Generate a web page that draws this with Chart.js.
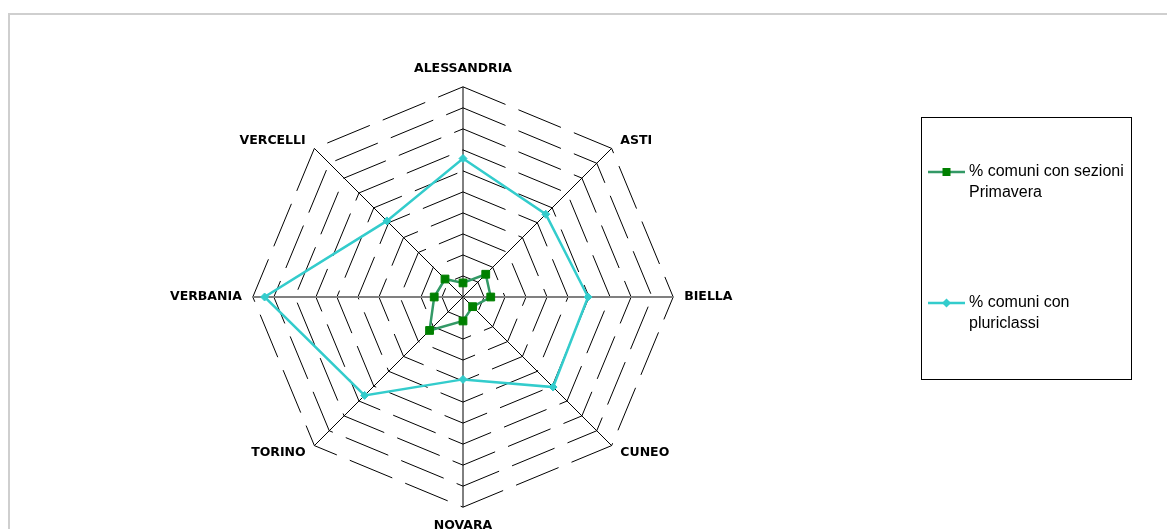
<!DOCTYPE html>
<html lang="it">
<head>
<meta charset="utf-8">
<title>Comuni con sezioni Primavera e pluriclassi</title>
<script src="https://cdn.jsdelivr.net/npm/chart.js@4.4.1/dist/chart.umd.min.js"></script>
<style>
  html, body { margin: 0; padding: 0; background: #fff; overflow: hidden; }
  #frame {
    position: absolute; left: 8px; top: 13px; width: 1300px; height: 700px;
    border-left: 2px solid #cfcfcf; border-top: 2px solid #cfcfcf;
  }
  #wrap { position: absolute; left: 0; top: 0; }
</style>
</head>
<body>
<div id="frame"></div>
<div id="wrap"><canvas id="radar" width="1167" height="600"></canvas></div>
<script>
// province piemontesi, in senso orario dall'alto
const province = ['ALESSANDRIA', 'ASTI', 'BIELLA', 'CUNEO', 'NOVARA', 'TORINO', 'VERBANIA', 'VERCELLI'];

const nomePrimavera   = '% comuni con sezioni Primavera';
const nomePluriclassi = '% comuni con pluriclassi';

const primavera   = [6.7, 15.3, 13.2, 6.5, 11.4, 22.5, 13.7, 12.1];
const pluriclassi = [65.9, 55.7, 59.5, 60.6, 39.2, 66.2, 94.4, 51.2];

const scalaMin = 0;
const scalaMax = 100;
const scalaPasso = 10;

// ── legenda nel riquadro a destra ──────────────────────────────────────────
const legendaBox = { x: 921.5, y: 117.5, w: 210, h: 262 };
const legendaY   = [172, 303];

function wrapText(ctx, text, maxW) {
  const words = text.split(' ');
  const lines = [];
  let cur = '';
  for (const w of words) {
    const t = cur ? cur + ' ' + w : w;
    if (ctx.measureText(t).width > maxW && cur) {
      lines.push(cur);
      cur = w;
    } else {
      cur = t;
    }
  }
  if (cur) lines.push(cur);
  return lines;
}

function marker(ctx, style, x, y, r, color) {
  ctx.fillStyle = color;
  ctx.beginPath();
  if (style === 'rect') {
    ctx.rect(x - r, y - r, 2 * r, 2 * r);
  } else {
    ctx.moveTo(x, y - r);
    ctx.lineTo(x + r, y);
    ctx.lineTo(x, y + r);
    ctx.lineTo(x - r, y);
    ctx.closePath();
  }
  ctx.fill();
}

const boxLegend = {
  id: 'boxLegend',
  afterDraw(chart) {
    const ctx = chart.ctx;
    ctx.save();
    ctx.strokeStyle = '#000';
    ctx.lineWidth = 1;
    ctx.strokeRect(legendaBox.x, legendaBox.y, legendaBox.w, legendaBox.h);

    ctx.font = '16px "Liberation Sans", Arial, sans-serif';
    ctx.textBaseline = 'middle';
    ctx.textAlign = 'left';
    chart.data.datasets.forEach((ds, i) => {
      const y = legendaY[i];
      ctx.strokeStyle = ds.borderColor;
      ctx.lineWidth = 2.5;
      ctx.beginPath();
      ctx.moveTo(928, y);
      ctx.lineTo(965, y);
      ctx.stroke();
      marker(ctx, ds.pointStyle, 946.5, y, ds.pointStyle === 'rect' ? 4 : 4.5, ds.pointBackgroundColor);

      ctx.fillStyle = '#000';
      wrapText(ctx, ds.label, 162).forEach((line, k) => {
        ctx.fillText(line, 969, y + k * 21);
      });
    });
    ctx.restore();
  }
};

new Chart(document.getElementById('radar'), {
  type: 'radar',
  data: {
    labels: province,
    datasets: [
      {
        label: nomePrimavera,
        data: primavera,
        borderColor: '#339966',
        backgroundColor: 'transparent',
        borderWidth: 2.5,
        fill: false,
        pointStyle: 'rect',
        pointRadius: 5.5,
        pointBorderWidth: 1,
        pointBackgroundColor: '#008000',
        pointBorderColor: '#008000',
      },
      {
        label: nomePluriclassi,
        data: pluriclassi,
        borderColor: '#33CCCC',
        backgroundColor: 'transparent',
        borderWidth: 2.5,
        fill: false,
        pointStyle: 'rectRot',
        pointRadius: 4,
        pointBorderWidth: 1,
        pointBackgroundColor: '#33CCCC',
        pointBorderColor: '#33CCCC',
      },
    ],
  },
  options: {
    responsive: false,
    animation: false,
    devicePixelRatio: 1,
    layout: { padding: { left: 159, right: 422, top: 4, bottom: 10 } },
    elements: { line: { tension: 0 } },
    plugins: {
      legend: { display: false },
      tooltip: { enabled: false },
    },
    scales: {
      r: {
        min: scalaMin,
        max: scalaMax,
        ticks: { display: false, stepSize: scalaPasso },
        grid: { color: '#000', lineWidth: 1, borderDash: [46, 14] },
        border: { dash: [46, 14] },
        angleLines: {
          color: ctx => (ctx.index === 2 || ctx.index === 6) ? '#808080' : '#000',
          lineWidth: ctx => (ctx.index === 2 || ctx.index === 6) ? 2 : 1,
        },
        pointLabels: {
          color: '#000',
          font: { family: '"DejaVu Sans", sans-serif', size: 12.5, weight: 'bold' },
          padding: ctx => ctx.index % 2 === 0 ? 11 : 0,
          // etichette diagonali: piccolo scostamento orizzontale dal vertice
          callback: (label, i) => {
            if (i === 1 || i === 3) return '  ' + label;
            if (i === 5 || i === 7) return label + '  ';
            return label;
          },
        },
      },
    },
  },
  plugins: [boxLegend],
});
</script>
</body>
</html>
